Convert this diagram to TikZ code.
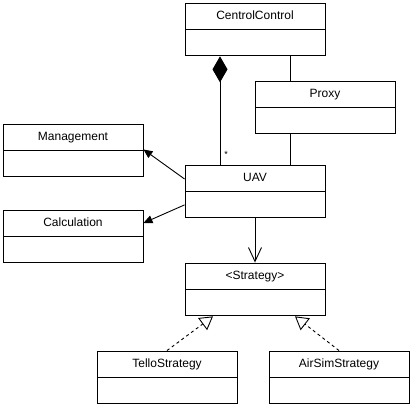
\documentclass[tikz,border=0pt]{standalone}
\usepackage{fontspec}
\setmainfont{Liberation Sans}
\usetikzlibrary{arrows.meta,positioning,calc}
\begin{document}
\begin{tikzpicture}[x=1pt,y=-1pt,
  hdr/.style={draw,line width=0.9pt,minimum width=140pt,minimum height=26pt,inner sep=0pt,text height=7.5pt,text depth=0pt,font=\fontsize{12}{14}\selectfont},
  bdy/.style={draw,line width=0.9pt,minimum width=140pt,minimum height=26pt,inner sep=0pt},
  conn/.style={line width=0.9pt},
  filledarrow/.style={conn,-{Triangle[length=9pt,width=8pt]}},
  openarrow/.style={conn,-{Straight Barb[length=14pt,width=13pt,line width=0.9pt]}},
  realize/.style={conn,dashed,dash pattern=on 3pt off 3pt,-{Triangle[open,fill=white,length=13pt,width=15pt,line width=0.9pt]}},
  compose/.style={conn,-{Diamond[length=26pt,width=15pt]}}
]
\useasboundingbox[fill=white] (0,0) rectangle (417,411);

\node[hdr] (cc) at (255,16) {CentrolControl};
\node[bdy,below=0pt of cc] (ccb) {};
\node[hdr] (prx) at (325,94) {Proxy};
\node[bdy,below=0pt of prx] (prxb) {};
\node[hdr] (mg) at (73,137) {Management};
\node[bdy,below=0pt of mg] (mgb) {};
\node[hdr] (uav) at (255,178) {UAV};
\node[bdy,below=0pt of uav] (uavb) {};
\node[hdr] (cal) at (73,223) {Calculation};
\node[bdy,below=0pt of cal] (calb) {};
\node[hdr] (str) at (255,276) {<Strategy>};
\node[bdy,below=0pt of str] (strb) {};
\node[hdr] (tel) at (167,364) {TelloStrategy};
\node[bdy,below=0pt of tel] (telb) {};
\node[hdr] (air) at (339,364) {AirSimStrategy};
\node[bdy,below=0pt of air] (airb) {};

\draw[conn] ([xshift=35pt]ccb.south) -- ([xshift=-35pt]prx.north);
\draw[conn] ([xshift=-35pt]prxb.south) -- ([xshift=35pt]uav.north);
\draw[compose] ([xshift=-35pt]uav.north) -- ([xshift=-35pt]ccb.south);
\node[font=\fontsize{9}{10}\selectfont,inner sep=0pt] (star) at (226,154) {*};
\draw[filledarrow] ([yshift=-1pt]uav.west) -- ([yshift=1pt]mgb.north east);
\draw[filledarrow] (uavb.west) -- (cal.east);
\draw[openarrow] (uavb.south) -- (str.north);
\draw[realize] (tel.north) -- ([xshift=-42pt]strb.south);
\draw[realize] (air.north) -- ([xshift=40pt]strb.south);
\end{tikzpicture}
\end{document}
